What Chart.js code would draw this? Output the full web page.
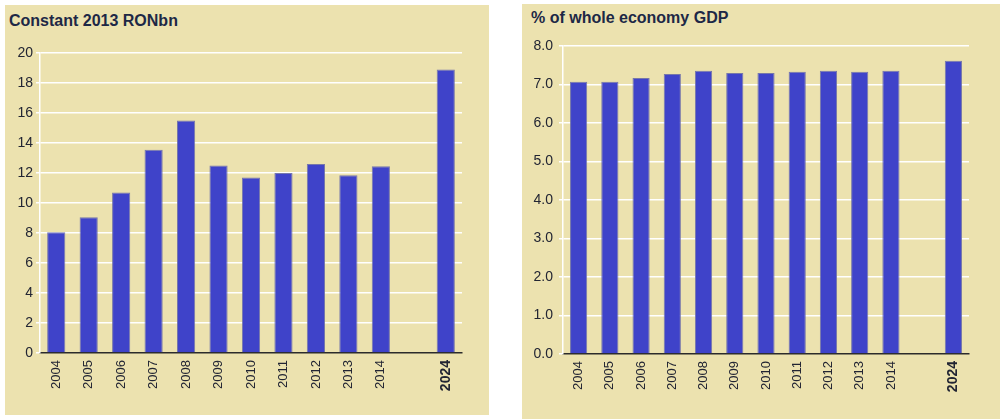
<!DOCTYPE html>
<html>
<head>
<meta charset="utf-8">
<script src="https://cdn.jsdelivr.net/npm/chart.js@4.4.1/dist/chart.umd.min.js"></script>
<style>
  html, body { margin: 0; padding: 0; background: #ffffff; }
  body { width: 1000px; height: 419px; position: relative; overflow: hidden; font-family: "Liberation Sans", Arial, sans-serif; }
  .panel { position: absolute; background: #ECE2AF; }
  .panel canvas { position: absolute; left: 0; top: 0; }
  .title { position: absolute; font-weight: bold; font-size: 16px; color: #1d2846; white-space: nowrap; }
  #p1 { left: 5px; top: 5px; width: 484px; height: 410px; }
  #p2 { left: 522px; top: 4px; width: 478px; height: 415px; }
  #t1 { left: 4px; top: 7px; }
  #t2 { left: 9px; top: 5px; }
</style>
</head>
<body>
<div class="panel" id="p1">
  <div class="title" id="t1">Constant 2013 RONbn</div>
  <canvas id="c1" width="484" height="410"></canvas>
</div>
<div class="panel" id="p2">
  <div class="title" id="t2">% of whole economy GDP</div>
  <canvas id="c2" width="478" height="415"></canvas>
</div>
<script>
// Years on the category axis; the blank entry leaves a gap before the 2024 projection
const years = ['2004', '2005', '2006', '2007', '2008', '2009', '2010', '2011', '2012', '2013', '2014', '', '2024'];

// Gross value, constant 2013 RON billions
const valueRONbn = [8.05, 9.05, 10.7, 13.55, 15.5, 12.5, 11.7, 12.0, 12.6, 11.85, 12.45, null, 18.9];

// Share of whole economy GDP, %
const shareGDP = [7.07, 7.07, 7.17, 7.27, 7.36, 7.30, 7.30, 7.33, 7.36, 7.33, 7.36, null, 7.62];

// Value axis ranges
const leftAxis = { min: 0, max: 20, step: 2, decimals: 0 };
const rightAxis = { min: 0, max: 8, step: 1, decimals: 1 };

const BAR = '#3F43C9';
const BAR_EDGE = 'rgba(105,108,170,0.9)';
const TEXT = '#222533';
const GRID = '#ffffff';
const FONT = '"Liberation Sans", Arial, sans-serif';

function makeChart(canvasId, values, axis, geo) {
  const last = years.length;
  return new Chart(document.getElementById(canvasId), {
    type: 'bar',
    data: {
      labels: years,
      datasets: [{
        data: values,
        backgroundColor: BAR,
        borderColor: BAR_EDGE,
        borderWidth: 1,
        borderSkipped: 'bottom',
        categoryPercentage: 1.0,
        barPercentage: geo.barPct
      }]
    },
    options: {
      responsive: false,
      animation: false,
      events: [],
      layout: { padding: { left: 0, right: geo.padRight, top: geo.padTop, bottom: 0 } },
      plugins: { legend: { display: false }, tooltip: { enabled: false }, title: { display: false } },
      scales: {
        x: {
          offset: true,
          grid: {
            offset: true,
            drawTicks: false,
            lineWidth: 1.5,
            // only the closing line on the right of the plot is shown
            color: c => (c.index === last ? GRID : 'rgba(0,0,0,0)')
          },
          border: { display: true, color: '#2b2b2b', width: 1.5 },
          ticks: {
            autoSkip: false,
            minRotation: 90,
            maxRotation: 90,
            padding: 7,
            color: TEXT,
            font: c => (c.index === last - 1
              ? { family: FONT, size: 14, weight: 'bold' }
              : { family: FONT, size: 13, weight: 'normal' })
          },
          afterFit: s => { s.height = geo.xHeight; }
        },
        y: {
          min: axis.min,
          max: axis.max,
          grid: {
            color: c => (c.tick && c.tick.value === 0 ? 'rgba(0,0,0,0)' : GRID),
            lineWidth: 1.5,
            drawTicks: true,
            tickLength: 4,
            tickColor: GRID
          },
          border: { display: true, color: GRID, width: 1.5 },
          ticks: {
            stepSize: axis.step,
            padding: geo.yPad,
            color: TEXT,
            font: { family: FONT, size: 14 },
            callback: v => Number(v).toFixed(axis.decimals)
          },
          afterFit: s => { s.width = geo.yWidth; }
        }
      }
    }
  });
}

makeChart('c1', valueRONbn, leftAxis, { padTop: 48, padRight: 27, xHeight: 62, yWidth: 35, yPad: 3, barPct: 0.56 });
makeChart('c2', shareGDP, rightAxis, { padTop: 42, padRight: 31, xHeight: 65, yWidth: 41, yPad: 6, barPct: 0.55 });
</script>
</body>
</html>
